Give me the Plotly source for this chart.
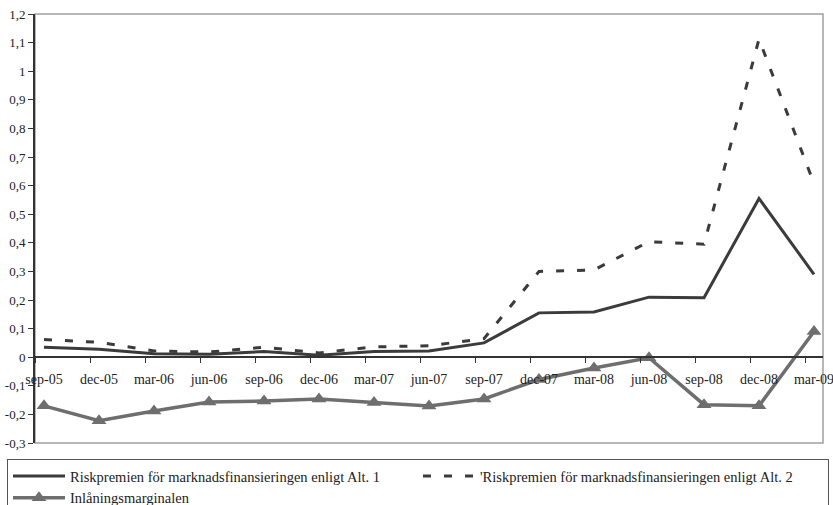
import plotly.graph_objects as go

# Quarter labels (category axis)
quarters = ["sep-05", "dec-05", "mar-06", "jun-06", "sep-06", "dec-06", "mar-07",
            "jun-07", "sep-07", "dec-07", "mar-08", "jun-08", "sep-08", "dec-08", "mar-09"]

# Series values (percentage points)
alt1 = [0.035, 0.028, 0.012, 0.010, 0.020, 0.007, 0.020, 0.022, 0.050,
        0.155, 0.158, 0.210, 0.208, 0.555, 0.290]
alt2 = [0.062, 0.052, 0.022, 0.018, 0.035, 0.015, 0.036, 0.040, 0.065,
        0.300, 0.305, 0.404, 0.395, 1.112, 0.607]
inlaning = [-0.170, -0.222, -0.188, -0.157, -0.153, -0.146, -0.158, -0.171, -0.146,
            -0.078, -0.038, -0.002, -0.166, -0.170, 0.090]

y_ticks = [1.2, 1.1, 1.0, 0.9, 0.8, 0.7, 0.6, 0.5, 0.4, 0.3, 0.2, 0.1, 0.0, -0.1, -0.2, -0.3]
y_ticktext = ["1,2", "1,1", "1", "0,9", "0,8", "0,7", "0,6", "0,5", "0,4", "0,3",
              "0,2", "0,1", "0", "-0,1", "-0,2", "-0,3"]

FONT = "Liberation Serif"
xi = list(range(len(quarters)))
off = 9 / 55  # category tick marks sit slightly left of each point

fig = go.Figure()
fig.add_trace(go.Scatter(
    x=xi, y=alt1, mode="lines",
    name="Riskpremien för marknadsfinansieringen enligt Alt. 1",
    line=dict(color="#3b3b3b", width=3),
))
fig.add_trace(go.Scatter(
    x=xi, y=alt2, mode="lines",
    name="'Riskpremien för marknadsfinansieringen enligt Alt. 2",
    line=dict(color="#3b3b3b", width=3, dash="8px,13px"),
))
fig.add_trace(go.Scatter(
    x=xi, y=inlaning, mode="lines+markers",
    name="Inlåningsmarginalen",
    line=dict(color="#6e6e6e", width=3.5),
    marker=dict(symbol="triangle-up", size=13, color="#6e6e6e"),
))

# light frame around the plot area
fig.add_shape(type="rect", xref="paper", yref="paper", x0=0, x1=1, y0=0, y1=1,
              line=dict(color="#a0a0a0", width=1.5), layer="below")

fig.update_layout(
    width=833, height=505,
    margin=dict(l=35, r=10, t=14, b=62, autoexpand=False),
    plot_bgcolor="white", paper_bgcolor="white",
    font=dict(family=FONT, size=14, color="#222"),
    xaxis=dict(
        range=[-off, len(quarters) - 1 + off],
        anchor="free", position=0.2,
        showline=True, linecolor="#333", linewidth=1.5,
        tickmode="array", tickvals=xi, ticktext=quarters,
        ticks="outside", ticklen=9, tickcolor="rgba(0,0,0,0)",
        tickfont=dict(family=FONT, size=14, color="#222"),
        ticklabeloverflow="allow",
        minor=dict(tickmode="array", tickvals=[i - off for i in xi],
                   ticks="outside", ticklen=5, tickcolor="#333", tickwidth=1.2),
        showgrid=False, zeroline=False,
    ),
    yaxis=dict(
        range=[-0.3, 1.2],
        tickmode="array", tickvals=y_ticks, ticktext=y_ticktext,
        ticks="outside", ticklen=5, tickcolor="#333", tickwidth=1.2,
        showline=True, linecolor="#333", linewidth=2,
        tickfont=dict(family=FONT, size=13, color="#222"),
        showgrid=False, zeroline=False,
    ),
    legend=dict(
        orientation="h",
        x=-28 / 788, xanchor="left", y=-16 / 429, yanchor="top",
        bordercolor="#555", borderwidth=1, bgcolor="white",
        entrywidth=343, entrywidthmode="pixels",
        font=dict(family=FONT, size=14.5, color="#222"),
        tracegroupgap=0, itemwidth=52,
    ),
    showlegend=True,
)

fig.write_html("out.html")
